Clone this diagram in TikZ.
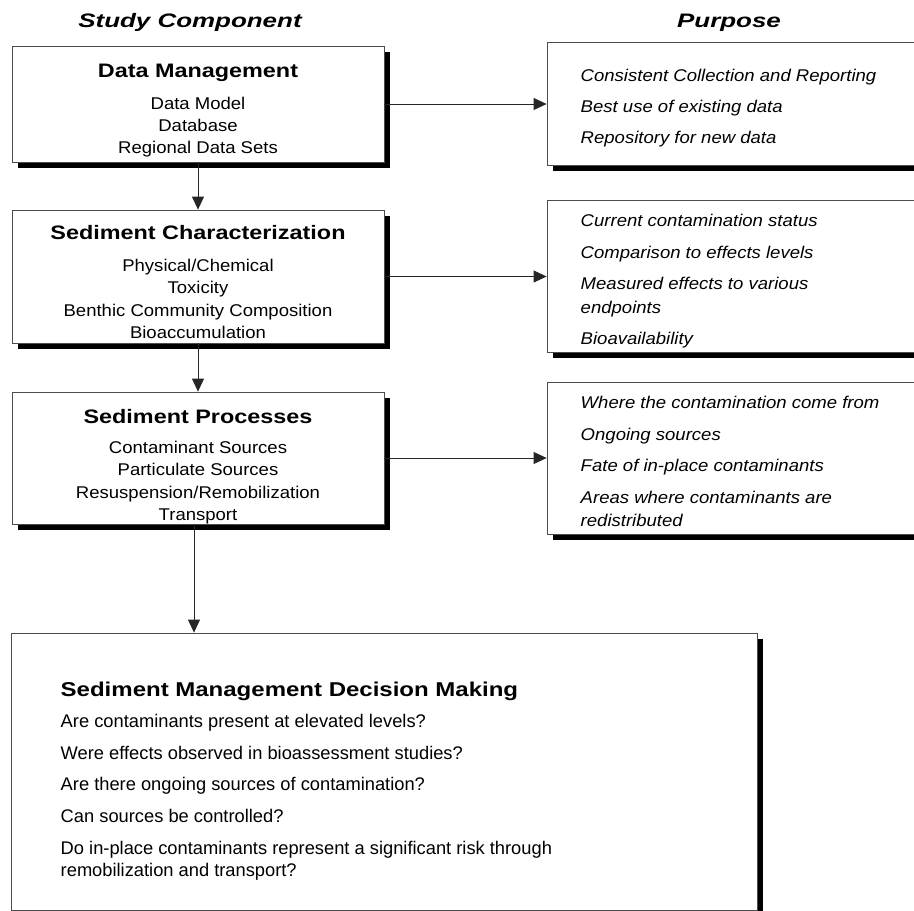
\documentclass[tikz,border=0pt]{standalone}
\usepackage{fontspec}
\setmainfont{Liberation Sans}
\newfontfamily\headfont[FakeStretch=1.33]{Liberation Sans}
\newfontfamily\titlefont[FakeStretch=1.2]{Liberation Sans}
\newfontfamily\itemfont[FakeStretch=1.09]{Liberation Sans}
\usetikzlibrary{arrows.meta,shadows}

\begin{document}
\begin{tikzpicture}[x=1pt,y=-1pt,->,>={Triangle[length=13pt,width=12pt]},line width=0.8pt,
    comp box/.style={draw=black!70,fill=white,inner sep=0pt,minimum width=372pt,
      drop shadow={shadow xshift=6pt,shadow yshift=-6pt,opacity=1,fill=black}},
    purpose box/.style={comp box,minimum width=383pt},
    col head/.style={anchor=base,font=\headfont\bfseries\itshape\fontsize{19.5}{22}\selectfont},
    comp title/.style={anchor=base,font=\titlefont\bfseries\fontsize{19.5}{23}\selectfont},
    comp item/.style={anchor=base,font=\itemfont\fontsize{17}{20}\selectfont},
    aim/.style={anchor=base west,font=\itemfont\itshape\fontsize{17}{20}\selectfont},
    decision title/.style={anchor=base west,font=\titlefont\bfseries\fontsize{20}{23}\selectfont},
    question/.style={anchor=base west,font=\fontsize{18.3}{22}\selectfont}]

  \useasboundingbox (0,0) rectangle (914,911);

  \node[col head] (hcomp) at (190,27) {Study Component};
  \node[col head] (hpurp) at (729,27) {Purpose};

  % study components
  \node[comp box,minimum height=116pt] (dm) at (198,104) {};
  \node[comp title] (dm-t) at (198,77) {Data Management};
  \foreach \t [count=\i] in {Data Model,Database,Regional Data Sets}
    \node[comp item] (dm-\i) at (198,87+22*\i) {\t};

  \node[comp box,minimum height=133pt] (sc) at (198,276.5) {};
  \node[comp title] (sc-t) at (198,239) {Sediment Characterization};
  \foreach \t [count=\i] in {Physical/Chemical,Toxicity,Benthic Community Composition,Bioaccumulation}
    \node[comp item] (sc-\i) at (198,248.5+22.5*\i) {\t};

  \node[comp box,minimum height=132pt] (sp) at (198,458) {};
  \node[comp title] (sp-t) at (198,423) {Sediment Processes};
  \foreach \t [count=\i] in {Contaminant Sources,Particulate Sources,Resuspension/Remobilization,Transport}
    \node[comp item] (sp-\i) at (198,430.5+22.5*\i) {\t};

  % purposes
  \node[purpose box,minimum height=123pt] (pr1) at (738.5,103.5) {};
  \foreach \t/\y [count=\i] in {Consistent Collection and Reporting/81.5,Best use of existing data/112.5,Repository for new data/143.5}
    \node[aim] (pr1-\i) at (577,\y) {\t};

  \node[purpose box,minimum height=152pt] (pr2) at (738.5,276) {};
  \foreach \t/\y [count=\i] in {Current contamination status/226.5,Comparison to effects levels/258.5,Measured effects to various/289.5,endpoints/313.5,Bioavailability/344.5}
    \node[aim] (pr2-\i) at (577,\y) {\t};

  \node[purpose box,minimum height=152pt] (pr3) at (738.5,458) {};
  \foreach \t/\y [count=\i] in {Where the contamination come from/408.5,Ongoing sources/440.5,Fate of in-place contaminants/471.5,Areas where contaminants are/503.5,redistributed/526.5}
    \node[aim] (pr3-\i) at (577,\y) {\t};

  % decision making
  \node[comp box,minimum width=746pt,minimum height=277pt] (smd) at (384,771.5) {};
  \node[decision title] (smd-t) at (57,696) {Sediment Management Decision Making};
  \foreach \t/\y [count=\i] in {Are contaminants present at elevated levels?/727,Were effects observed in bioassessment studies?/759,Are there ongoing sources of contamination?/790,Can sources be controlled?/822,Do in-place contaminants represent a significant risk through/854,remobilization and transport?/876}
    \node[question] (smd-\i) at (57,\y) {\t};

  \path[black!85]
    (dm) edge (dm.east -| pr1.west)
         edge (sc)
    (sc) edge (sc.east -| pr2.west)
         edge (sp)
    (sp) edge (sp.east -| pr3.west)
    ([xshift=-4pt]sp.south) edge ([xshift=-4pt]sp.south |- smd.north);
\end{tikzpicture}
\end{document}
